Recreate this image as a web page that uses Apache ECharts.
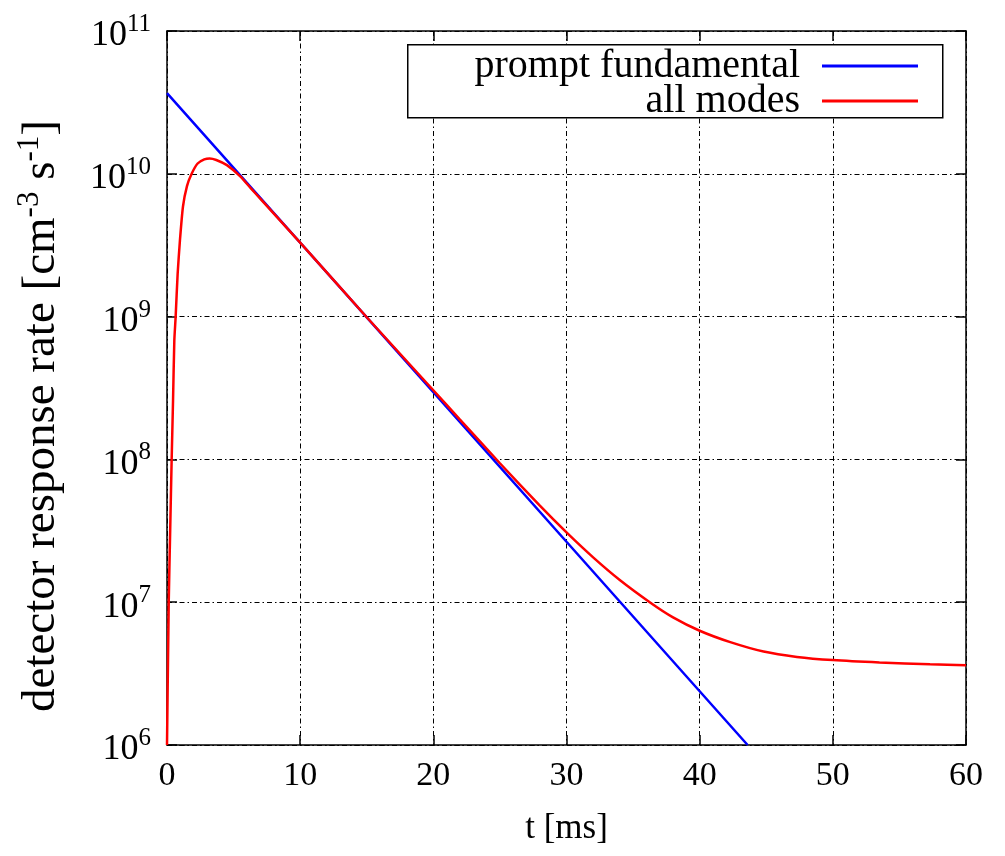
<!DOCTYPE html>
<html>
<head>
<meta charset="utf-8">
<script src="https://cdn.jsdelivr.net/npm/echarts@6/dist/echarts.min.js"></script>
<style>html,body{margin:0;padding:0;background:#fff;}#c{width:1005px;height:856px;}</style>
</head>
<body>
<div id="c"></div>
<script>
// Data
const tFund = [0, 10, 20, 30, 40, 43.6];
const rateFund = [3.67e10, 3.3e9, 2.96e8, 2.65e7, 2.38e6, 1e6];

const tAll = [0, 0.13, 0.24, 0.35, 0.45, 0.55, 0.65, 0.8, 0.97, 1.2, 1.5, 1.85, 2.3, 2.8, 3.2, 3.7, 4.5, 5.5, 6.3, 7, 10, 15, 20, 22, 25, 28, 30, 32, 34, 36.25, 38, 40, 42.3, 44.8, 47.3, 50, 53.5, 57.3, 60];
const rateAll = [1e6, 1e7, 3.2e7, 1e8, 2.5e8, 6.8e8, 1e9, 2e9, 3.4e9, 5.9e9, 8.2e9, 1.0e10, 1.18e10, 1.26e10, 1.28e10, 1.25e10, 1.15e10, 9.6e9, 7.9e9, 6.7e9, 3.3e9, 9.9e8, 3.05e8, 1.9e8, 9.4e7, 4.74e7, 3.08e7, 2.06e7, 1.43e7, 1.0e7, 7.83e6, 6.31e6, 5.25e6, 4.51e6, 4.14e6, 3.93e6, 3.78e6, 3.67e6, 3.62e6];

const xTicks = [0, 10, 20, 30, 40, 50, 60];
const seriesNames = ['prompt fundamental', 'all modes'];

const FONT = 'Liberation Serif';
const gridLine = {show: true, lineStyle: {color: '#000', width: 1, type: [5, 3, 1.5, 3]}};
const box = {show: true, onZero: false, lineStyle: {color: '#000', width: 1.5}};

const chart = echarts.init(document.getElementById('c'), null, {renderer: 'canvas'});
chart.setOption({
  animation: false,
  backgroundColor: '#fff',
  textStyle: {fontFamily: FONT, color: '#000'},
  grid: {left: 167, top: 31, right: 39, bottom: 111, containLabel: false},
  xAxis: [{
    type: 'value', min: 0, max: 60, interval: 10, position: 'bottom',
    axisLine: box,
    axisTick: {show: true, inside: true, length: 10, lineStyle: {color: '#000', width: 1.5}},
    axisLabel: {color: '#000', fontFamily: FONT, fontSize: 34, margin: 14,
      formatter: v => xTicks.includes(v) ? String(v) : ''},
    splitLine: gridLine,
    name: 't [ms]', nameLocation: 'middle', nameGap: 66,
    nameTextStyle: {color: '#000', fontFamily: FONT, fontSize: 35}
  }, {
    type: 'value', min: 0, max: 60, interval: 10, position: 'top',
    axisLine: box,
    axisTick: {show: true, inside: true, length: 10, lineStyle: {color: '#000', width: 1.5}},
    axisLabel: {show: false}, splitLine: {show: false}
  }],
  yAxis: [{
    type: 'log', logBase: 10, min: 1e6, max: 1e11, splitNumber: 5, position: 'left',
    axisLine: box,
    axisTick: {show: true, inside: true, length: 10, lineStyle: {color: '#000', width: 1.5}},
    minorTick: {show: false},
    axisLabel: {color: '#000', fontFamily: FONT, margin: 16,
      formatter: v => '{b|10}{s|' + Math.round(Math.log10(v)) + '}',
      rich: {
        b: {fontSize: 36, fontFamily: FONT, color: '#000', verticalAlign: 'bottom', lineHeight: 46},
        s: {fontSize: 25, fontFamily: FONT, color: '#000', verticalAlign: 'bottom', lineHeight: 46, padding: [0, 0, 17, 0]}
      }},
    splitLine: gridLine,
    name: '{n|detector response rate [cm}{s|-3}{n| s}{s|-1}{n|]}', nameLocation: 'middle', nameGap: 102,
    nameTextStyle: {color: '#000', fontFamily: FONT, fontSize: 47, padding: [0, 56, 0, 0],
      rich: {
        n: {fontSize: 47, fontFamily: FONT, color: '#000', verticalAlign: 'bottom', lineHeight: 52},
        s: {fontSize: 31, fontFamily: FONT, color: '#000', verticalAlign: 'bottom', lineHeight: 52, padding: [0, 0, 20, 0]}
      }}
  }, {
    type: 'log', logBase: 10, min: 1e6, max: 1e11, splitNumber: 5, position: 'right',
    axisLine: box,
    axisTick: {show: true, inside: true, length: 10, lineStyle: {color: '#000', width: 1.5}},
    axisLabel: {show: false}, splitLine: {show: false}
  }],
  legend: [{
    data: [seriesNames[0]], right: 82, top: 41, orient: 'vertical', align: 'right',
    icon: 'rect', itemWidth: 96, itemHeight: 3,
    textStyle: {color: '#000', fontFamily: FONT, fontSize: 40, padding: [0, 17, 0, 0]}
  }, {
    data: [seriesNames[1]], right: 82, top: 76, orient: 'vertical', align: 'right',
    icon: 'rect', itemWidth: 96, itemHeight: 3,
    textStyle: {color: '#000', fontFamily: FONT, fontSize: 40, padding: [0, 17, 0, 0]}
  }],
  graphic: [{
    type: 'rect', left: 407, top: 44, shape: {width: 535, height: 73},
    style: {fill: '#fff', stroke: '#000', lineWidth: 1.5}, z: 1
  }],
  series: [{
    name: seriesNames[0], type: 'line', xAxisIndex: 0, yAxisIndex: 0,
    data: tFund.map((t, i) => [t, rateFund[i]]),
    showSymbol: false, symbol: 'none', color: '#0000ff',
    lineStyle: {color: '#0000ff', width: 2.5}, z: 3
  }, {
    name: seriesNames[1], type: 'line', xAxisIndex: 0, yAxisIndex: 0,
    data: tAll.map((t, i) => [t, rateAll[i]]),
    showSymbol: false, symbol: 'none', color: '#ff0000', smooth: 0.2,
    lineStyle: {color: '#ff0000', width: 2.5}, z: 4
  }]
});
</script>
</body>
</html>
